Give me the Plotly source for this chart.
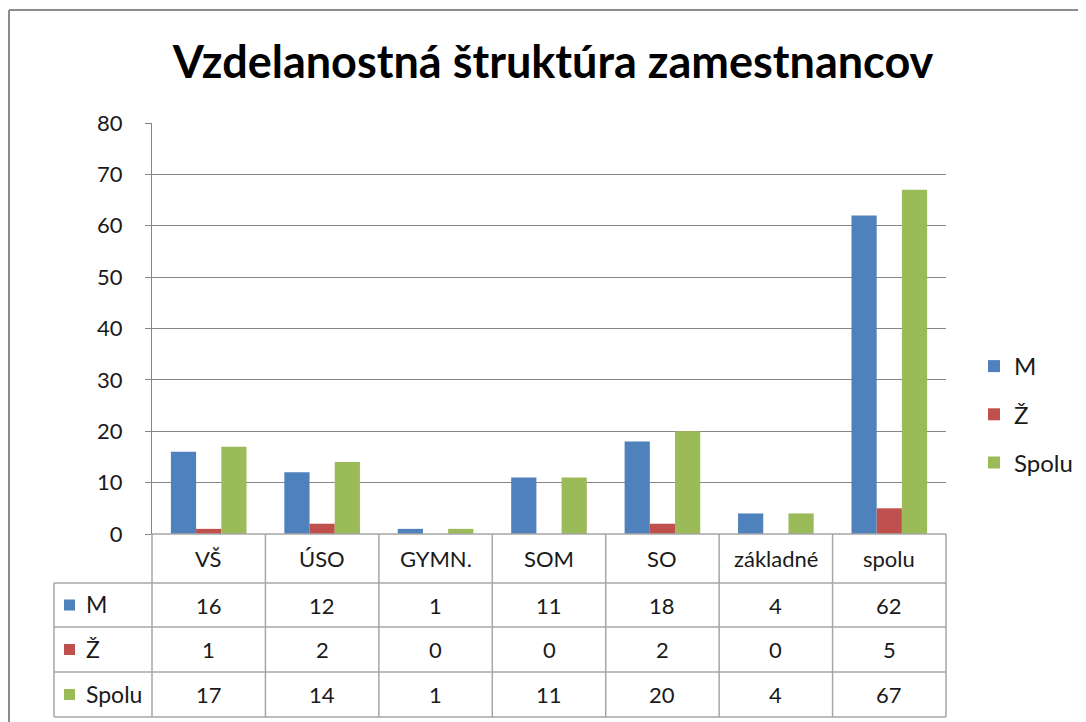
import plotly.graph_objects as go

categories = ["VŠ", "ÚSO", "GYMN.", "SOM", "SO", "základné", "spolu"]
series_names = ["M", "Ž", "Spolu"]
values_m = [16, 12, 1, 11, 18, 4, 62]
values_z = [1, 2, 0, 0, 2, 0, 5]
values_spolu = [17, 14, 1, 11, 20, 4, 67]
colors = ["#4F81BD", "#C0504D", "#9BBB59"]
y_ticks = [0, 10, 20, 30, 40, 50, 60, 70, 80]

W, H = 1086, 722
OFF = 8  # page body margin offset
L, R, T, B = 152, 946, 123, 534  # plot area pixels (reference coords)

def px(x):
    return (x - L) / (R - L)

def py(y):
    return (B - y) / (B - T)

FONT = "Lato"
GRID = "#868686"
LINE = "#A6A6A6"
TXT = "#1A1A1A"

all_series = [values_m, values_z, values_spolu]

fig = go.Figure()
for name, vals, col in zip(series_names, all_series, colors):
    fig.add_trace(go.Bar(
        x=categories, y=vals, name=name, marker=dict(color=col, line=dict(width=0)),
        legendgroup=name,
    ))

fig.update_layout(
    width=W, height=H,
    margin=dict(l=L - OFF, r=W - (R - OFF), t=T - OFF, b=H - (B - OFF), pad=0),
    paper_bgcolor="white", plot_bgcolor="white",
    barmode="group", bargap=1.5 / 4.5, bargroupgap=0,
    title=dict(text="<b>Vzdelanostná štruktúra zamestnancov</b>",
               x=(553 - OFF) / W, xanchor="center", y=1 - (62 - OFF) / H, yanchor="middle",
               font=dict(family=FONT, size=45, color="black")),
    font=dict(family=FONT, size=22, color=TXT),
    legend=dict(x=px(974), y=py(344), xanchor="left", yanchor="top",
                font=dict(family=FONT, size=24, color=TXT),
                tracegroupgap=14, itemwidth=30, bgcolor="rgba(0,0,0,0)"),
    xaxis=dict(type="category", range=[-0.5, len(categories) - 0.5],
               showticklabels=False, showgrid=False, zeroline=False,
               showline=False, ticks=""),
    yaxis=dict(range=[0, 80], tickvals=y_ticks, showgrid=True, gridcolor=GRID,
               gridwidth=1, zeroline=False, showline=True, linecolor=GRID,
               linewidth=1, ticks="outside", ticklen=6, tickcolor=GRID,
               ticklabelstandoff=18,
               tickfont=dict(family=FONT, size=22, color=TXT)),
)

shapes = []
# outer chart border (top & left visible)
shapes.append(dict(type="line", xref="paper", yref="paper",
                   x0=px(9), x1=px(1100), y0=py(10), y1=py(10),
                   line=dict(color="#8C8C8C", width=2)))
shapes.append(dict(type="line", xref="paper", yref="paper",
                   x0=px(9), x1=px(9), y0=py(10), y1=py(740),
                   line=dict(color="#8C8C8C", width=2)))

# table geometry
row_tops = [534, 583, 627, 672, 717]
col_bounds = [L + i * (R - L) / len(categories) for i in range(len(categories) + 1)]
table_left = 54
shapes.append(dict(type="line", xref="paper", yref="paper", x0=px(L), x1=px(R),
                   y0=py(534), y1=py(534), line=dict(color=LINE, width=1.5)))
for yy in row_tops[1:]:
    shapes.append(dict(type="line", xref="paper", yref="paper", x0=px(table_left), x1=px(R),
                       y0=py(yy), y1=py(yy), line=dict(color=LINE, width=1.5)))
for xx in col_bounds:
    shapes.append(dict(type="line", xref="paper", yref="paper", x0=px(xx), x1=px(xx),
                       y0=py(534), y1=py(717), line=dict(color=LINE, width=1.5)))
shapes.append(dict(type="line", xref="paper", yref="paper", x0=px(table_left), x1=px(table_left),
                   y0=py(583), y1=py(717), line=dict(color=LINE, width=1.5)))

annotations = []
for c in categories:
    annotations.append(dict(x=c, xref="x", y=py(558.5), yref="paper", text=c,
                            showarrow=False, xanchor="center", yanchor="middle",
                            font=dict(family=FONT, size=22, color=TXT)))
row_centers = [605, 649.5, 694.5]
for name, vals, col, yc in zip(series_names, all_series, colors, row_centers):
    shapes.append(dict(type="rect", xref="paper", yref="paper",
                       x0=px(64), x1=px(75), y0=py(yc - 5.5), y1=py(yc + 5.5),
                       fillcolor=col, line=dict(width=0)))
    annotations.append(dict(x=px(84), xref="paper", y=py(yc - 1), yref="paper", text=name,
                            showarrow=False, xanchor="left", yanchor="middle",
                            font=dict(family=FONT, size=23, color=TXT)))
    for c, v in zip(categories, vals):
        annotations.append(dict(x=c, xref="x", y=py(yc), yref="paper", text=str(v),
                                showarrow=False, xanchor="center", yanchor="middle",
                                font=dict(family=FONT, size=22, color=TXT)))

fig.update_layout(shapes=shapes, annotations=annotations)
fig.write_html("out.html")
